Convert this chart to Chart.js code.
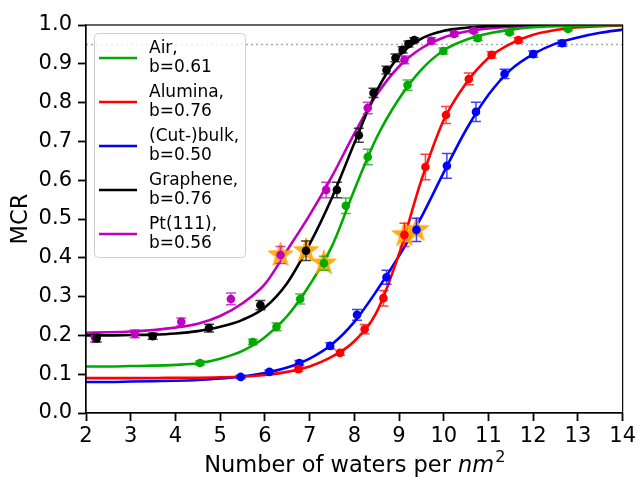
<!DOCTYPE html>
<html lang="en">
<head>
<meta charset="UTF-8">
<title>MCR vs number of waters</title>
<script src="https://cdn.jsdelivr.net/npm/chart.js"></script>
<style>
  html, body { margin: 0; padding: 0; background: #fff; }
  #wrap { width: 639px; height: 477px; }
</style>
</head>
<body>
<div id="wrap"><canvas id="chart" width="639" height="477"></canvas></div>
<script>
// axis ticks
const xTicks = [2, 3, 4, 5, 6, 7, 8, 9, 10, 11, 12, 13, 14];
const yTicks = [0, 0.1, 0.2, 0.3, 0.4, 0.5, 0.6, 0.7, 0.8, 0.9, 1.0];
const thresholdY = 0.95;

// fitted curves, every 0.5
const curveX = [2, 2.5, 3, 3.5, 4, 4.5, 5, 5.5, 6, 6.5, 7, 7.5, 8, 8.5, 9, 9.5, 10, 10.5, 11, 11.5, 12, 12.5, 13, 13.5, 14];
const airCurve      = [0.120, 0.120, 0.121, 0.122, 0.124, 0.128, 0.140, 0.160, 0.195, 0.250, 0.330, 0.430, 0.575, 0.710, 0.810, 0.885, 0.935, 0.962, 0.978, 0.988, 0.994, 0.997, 0.998, 0.999, 1.000];
const aluminaCurve  = [0.090, 0.090, 0.090, 0.090, 0.091, 0.091, 0.092, 0.094, 0.098, 0.106, 0.120, 0.145, 0.185, 0.260, 0.410, 0.600, 0.755, 0.850, 0.915, 0.952, 0.975, 0.987, 0.994, 0.997, 0.999];
const bulkCurve     = [0.080, 0.080, 0.081, 0.082, 0.083, 0.085, 0.089, 0.094, 0.103, 0.117, 0.140, 0.177, 0.235, 0.315, 0.405, 0.505, 0.620, 0.730, 0.820, 0.885, 0.925, 0.952, 0.968, 0.980, 0.988];
const grapheneCurve = [0.200, 0.200, 0.201, 0.202, 0.205, 0.211, 0.222, 0.240, 0.272, 0.335, 0.435, 0.555, 0.695, 0.830, 0.920, 0.965, 0.985, 0.993, 0.997, 0.999, 1.000, 1.000, 1.000, 1.000, 1.000];
const ptCurve       = [0.207, 0.208, 0.210, 0.214, 0.220, 0.230, 0.250, 0.283, 0.332, 0.420, 0.510, 0.610, 0.720, 0.820, 0.893, 0.940, 0.968, 0.983, 0.991, 0.995, 0.998, 0.999, 1.000, 1.000, 1.000];

// measured points with error bars
const airX   = [4.55, 5.73, 6.26, 6.79, 7.32, 7.81, 8.30, 9.19, 9.99, 10.76, 11.47, 12.78];
const airY   = [0.129, 0.183, 0.222, 0.294, 0.386, 0.534, 0.660, 0.845, 0.933, 0.966, 0.981, 0.990];
const airErr = [0.005, 0.007, 0.010, 0.013, 0.018, 0.020, 0.020, 0.013, 0.008, 0.006, 0.005, 0.004];

const aluminaX   = [6.75, 7.68, 8.23, 8.65, 9.12, 9.59, 10.05, 10.56, 11.07, 11.67];
const aluminaY   = [0.113, 0.155, 0.216, 0.296, 0.459, 0.634, 0.768, 0.861, 0.923, 0.961];
const aluminaErr = [0.006, 0.006, 0.012, 0.020, 0.030, 0.033, 0.022, 0.015, 0.008, 0.006];

const bulkX   = [5.46, 6.10, 6.77, 7.46, 8.06, 8.72, 9.39, 10.07, 10.72, 11.36, 12.00, 12.65];
const bulkY   = [0.093, 0.106, 0.129, 0.173, 0.253, 0.350, 0.472, 0.637, 0.776, 0.874, 0.925, 0.953];
const bulkErr = [0.004, 0.004, 0.006, 0.008, 0.014, 0.018, 0.030, 0.032, 0.025, 0.012, 0.008, 0.008];

const grapheneX   = [2.24, 3.49, 4.75, 5.90, 6.92, 7.61, 8.10, 8.43, 8.72, 8.92, 9.08, 9.21, 9.34];
const grapheneY   = [0.193, 0.198, 0.219, 0.278, 0.418, 0.575, 0.716, 0.825, 0.884, 0.915, 0.936, 0.951, 0.961];
const grapheneErr = [0.010, 0.008, 0.010, 0.012, 0.025, 0.020, 0.018, 0.012, 0.010, 0.010, 0.008, 0.008, 0.006];

const ptX   = [2.20, 3.09, 4.13, 5.24, 6.35, 7.37, 8.30, 9.12, 9.72, 10.23, 10.67];
const ptY   = [0.195, 0.204, 0.235, 0.294, 0.407, 0.575, 0.786, 0.910, 0.959, 0.977, 0.985];
const ptErr = [0.012, 0.010, 0.010, 0.015, 0.022, 0.020, 0.015, 0.010, 0.008, 0.006, 0.005];

// highlighted points (orange stars)
const starX = [6.35, 6.92, 7.32, 9.12, 9.39];
const starY = [0.407, 0.418, 0.386, 0.459, 0.472];

const series = [
    { label: ['Air,', 'b=0.61'],        color: '#00aa00', x: airX,      y: airY,      err: airErr,      curve: airCurve },
    { label: ['Alumina,', 'b=0.76'],    color: '#ff0000', x: aluminaX,  y: aluminaY,  err: aluminaErr,  curve: aluminaCurve },
    { label: ['(Cut-)bulk,', 'b=0.50'], color: '#0000ff', x: bulkX,     y: bulkY,     err: bulkErr,     curve: bulkCurve },
    { label: ['Graphene,', 'b=0.76'],   color: '#000000', x: grapheneX, y: grapheneY, err: grapheneErr, curve: grapheneCurve },
    { label: ['Pt(111),', 'b=0.56'],    color: '#c000c0', x: ptX,       y: ptY,       err: ptErr,       curve: ptCurve }
];

const FONT = "'DejaVu Sans', sans-serif";

function makeStar(r, color) {
    const c = document.createElement('canvas');
    c.width = c.height = 2 * r + 4;
    const g = c.getContext('2d');
    const cx = r + 2, cy = r + 2;
    g.beginPath();
    for (let k = 0; k < 10; k++) {
        const a = -Math.PI / 2 + k * Math.PI / 5;
        const rad = k % 2 ? r * 0.4 : r;
        const px = cx + rad * Math.cos(a), py = cy + rad * Math.sin(a);
        if (k === 0) g.moveTo(px, py); else g.lineTo(px, py);
    }
    g.closePath();
    g.globalAlpha = 0.9;
    g.fillStyle = color;
    g.fill();
    g.lineWidth = 1;
    g.strokeStyle = color;
    g.stroke();
    return c;
}

const datasets = [];
series.forEach(s => {
    datasets.push({
        type: 'line',
        data: curveX.map((x, i) => ({ x: x, y: s.curve[i] })),
        borderColor: s.color,
        borderWidth: 2.6,
        pointRadius: 0,
        fill: false,
        cubicInterpolationMode: 'monotone',
        order: 20
    });
    datasets.push({
        type: 'scatter',
        data: s.x.map((x, i) => ({ x: x, y: s.y[i] })),
        backgroundColor: s.color,
        borderColor: s.color,
        pointRadius: 4.3,
        pointBorderWidth: 0,
        errors: s.err,
        errColor: s.color,
        order: 5
    });
});
datasets.push({
    type: 'scatter',
    data: starX.map((x, i) => ({ x: x, y: starY[i] })),
    pointStyle: makeStar(13, '#ffa500'),
    order: 10
});
datasets.push({
    type: 'line',
    data: [{ x: xTicks[0], y: thresholdY }, { x: xTicks[xTicks.length - 1], y: thresholdY }],
    borderColor: '#aaaaaa',
    borderWidth: 1.5,
    borderDash: [2, 3],
    pointRadius: 0,
    order: 30
});

// error bars, drawn just under each dataset's markers
const errorBars = {
    id: 'errorBars',
    beforeDatasetDraw(chart, args) {
        const ds = chart.data.datasets[args.index];
        if (!ds.errors) return;
        const ctx = chart.ctx, yScale = chart.scales.y;
        ctx.save();
        ctx.strokeStyle = ds.errColor;
        ctx.globalAlpha = 0.75;
        ctx.lineWidth = 1.5;
        args.meta.data.forEach((pt, i) => {
            const v = ds.data[i].y, e = ds.errors[i];
            const top = yScale.getPixelForValue(v + e);
            const bot = yScale.getPixelForValue(v - e);
            ctx.beginPath();
            ctx.moveTo(pt.x, top); ctx.lineTo(pt.x, bot);
            ctx.moveTo(pt.x - 5, top); ctx.lineTo(pt.x + 5, top);
            ctx.moveTo(pt.x - 5, bot); ctx.lineTo(pt.x + 5, bot);
            ctx.stroke();
        });
        ctx.restore();
    }
};

// frame, titles and legend
const decorations = {
    id: 'decorations',
    afterDraw(chart) {
        const ctx = chart.ctx, a = chart.chartArea;
        ctx.save();
        ctx.strokeStyle = '#000';
        ctx.lineWidth = 1.2;
        ctx.strokeRect(a.left, a.top, a.right - a.left, a.bottom - a.top);

        // y title
        ctx.fillStyle = '#000';
        ctx.font = '22.5px ' + FONT;
        ctx.textAlign = 'center';
        ctx.textBaseline = 'middle';
        ctx.save();
        ctx.translate(21, (a.top + a.bottom) / 2);
        ctx.rotate(-Math.PI / 2);
        ctx.fillText('MCR', 0, 0);
        ctx.restore();

        // x title with italic nm and superscript 2
        const p1 = 'Number of waters per ', p2 = 'nm', p3 = '2';
        ctx.textAlign = 'left';
        ctx.textBaseline = 'alphabetic';
        ctx.font = '22.5px ' + FONT;
        const w1 = ctx.measureText(p1).width;
        ctx.font = 'italic 22.5px ' + FONT;
        const w2 = ctx.measureText(p2).width;
        ctx.font = '16px ' + FONT;
        const w3 = ctx.measureText(p3).width;
        let x = (a.left + a.right) / 2 - (w1 + w2 + w3) / 2;
        const base = 472;
        ctx.font = '22.5px ' + FONT;
        ctx.fillText(p1, x, base); x += w1;
        ctx.font = 'italic 22.5px ' + FONT;
        ctx.fillText(p2, x, base); x += w2;
        ctx.font = '16px ' + FONT;
        ctx.fillText(p3, x + 1, base - 10);

        // legend
        ctx.beginPath();
        ctx.roundRect(94.5, 33.5, 151, 224, 4);
        ctx.fillStyle = 'rgba(255,255,255,0.8)';
        ctx.fill();
        ctx.strokeStyle = '#d0d0d0';
        ctx.lineWidth = 1;
        ctx.stroke();
        ctx.font = '17px ' + FONT;
        series.forEach((s, i) => {
            const ly = 58 + 44 * i;
            ctx.strokeStyle = s.color;
            ctx.lineWidth = 2.6;
            ctx.beginPath();
            ctx.moveTo(99, ly); ctx.lineTo(137, ly);
            ctx.stroke();
            ctx.fillStyle = '#000';
            ctx.fillText(s.label[0], 149, ly - 5);
            ctx.fillText(s.label[1], 149, ly + 14);
        });
        ctx.restore();
    }
};

const axisCommon = {
    type: 'linear',
    title: { display: false },
    grid: {
        display: true,
        drawOnChartArea: false,
        drawTicks: true,
        tickLength: 8,
        tickColor: '#000',
        tickWidth: 1.8
    },
    border: { display: true, color: '#000', width: 1.2 }
};

new Chart(document.getElementById('chart'), {
    type: 'scatter',
    data: { datasets: datasets },
    options: {
        responsive: false,
        animation: false,
        events: [],
        layout: { padding: { top: 25, right: 12, left: 0, bottom: 0 } },
        plugins: { legend: { display: false }, tooltip: { enabled: false } },
        scales: {
            x: Object.assign({}, axisCommon, {
                min: xTicks[0],
                max: xTicks[xTicks.length - 1],
                afterBuildTicks: scale => { scale.ticks = xTicks.map(v => ({ value: v })); },
                afterFit: scale => { scale.height = 64; },
                ticks: { color: '#000', font: { size: 21, family: FONT }, padding: 3, maxRotation: 0, autoSkip: false }
            }),
            y: Object.assign({}, axisCommon, {
                min: yTicks[0],
                max: yTicks[yTicks.length - 1],
                afterBuildTicks: scale => { scale.ticks = yTicks.map(v => ({ value: v })); },
                afterFit: scale => { scale.width = 86; },
                ticks: { color: '#000', font: { size: 21, family: FONT }, padding: 6, autoSkip: false,
                         callback: v => v.toFixed(1) }
            })
        }
    },
    plugins: [errorBars, decorations]
});
</script>
</body>
</html>
